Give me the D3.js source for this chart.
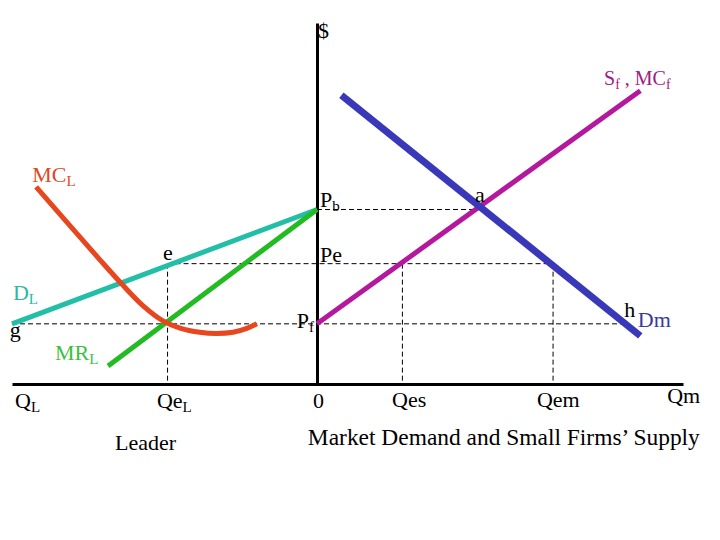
<!DOCTYPE html>
<html>
<head>
<meta charset="utf-8">
<script src="https://cdn.jsdelivr.net/npm/d3@7"></script>
<style>
  body { margin: 0; background: #fff; }
  svg text { font-family: "Liberation Serif", "Times New Roman", serif; }
</style>
</head>
<body>
<div id="chart"></div>
<script>
// Quantity runs left of 0 for the leader, right of 0 for the market
const leaderDemand = [[-10, 2], [0, 5.8]];
const leaderMR = [[-6.85, 0.6], [0, 5.8]];
const leaderMC = [[-9.21, 6.55], [-7.11, 4.12], [-6.36, 3.28], [-5.7, 2.6],
  [-5.05, 2.1], [-4.49, 1.86], [-3.84, 1.72], [-3.3, 1.68], [-2.75, 1.72], [-2.3, 1.85], [-1.97, 2.0]];
const marketDemand = [[0.8, 9.6], [10.6, 1.6]];
const fringeSupply = [[0, 2], [10.6, 9.75]];

// dashed guides
const priceGuides = [
  { y: 5.8, x0: 0, x1: 5.34 },     // Pb to a
  { y: 4, x0: -4.9, x1: 7.74 },    // e to Qem
  { y: 2, x0: -10, x1: 10.1 }      // g to h
];
const qtyGuides = [
  { x: -4.9, y1: 4 },   // QeL
  { x: 2.8, y1: 4 },    // Qes
  { x: 7.74, y1: 4 }    // Qem
];

// annotations: main text, subscript, anchor in chart units
const labels = [
  { t: "$", s: "", x: 0.03, y: 11.5, c: "#000" },
  { t: "MC", s: "L", x: -9.34, y: 6.71, c: "#e0481e" },
  { t: "D", s: "L", x: -9.97, y: 2.79, c: "#2ab8a2" },
  { t: "g", s: "", x: -10.07, y: 1.56, c: "#000" },
  { t: "MR", s: "L", x: -8.59, y: 0.8, c: "#3cbf3c" },
  { t: "e", s: "", x: -5.05, y: 4.12, c: "#000" },
  { t: "P", s: "b", x: 0.1, y: 5.88, c: "#000" },
  { t: "Pe", s: "", x: 0.1, y: 4.06, c: "#000" },
  { t: "P", s: "f", x: -0.66, y: 1.86, c: "#000" },
  { t: "a", s: "", x: 5.18, y: 6.05, c: "#000" },
  { t: "h", s: "", x: 10.07, y: 2.23, c: "#000" },
  { t: "Dm", s: "", x: 10.52, y: 1.89, c: "#3a3a9e" },
  { t: "Q", s: "L", x: -9.9, y: -0.8, c: "#000" },
  { t: "Qe", s: "L", x: -5.25, y: -0.8, c: "#000" },
  { t: "0", s: "", x: -0.13, y: -0.8, c: "#000" },
  { t: "Qes", s: "", x: 2.46, y: -0.76, c: "#000" },
  { t: "Qem", s: "", x: 7.21, y: -0.76, c: "#000" },
  { t: "Qm", s: "", x: 11.48, y: -0.63, c: "#000" },
  { t: "Leader", s: "", x: -6.62, y: -2.19, c: "#000" }
];

const width = 720;
const height = 540;

const x = d3.scaleLinear().domain([-10, 12]).range([12, 683]);
const y = d3.scaleLinear().domain([0, 12]).range([384, 23]);

const svg = d3.select("#chart")
  .append("svg")
  .attr("width", width)
  .attr("height", height);

// guides first so curves sit on top
const guides = svg.append("g")
  .attr("stroke", "#000")
  .attr("stroke-width", 1)
  .attr("stroke-dasharray", "5,3");

guides.selectAll(".hguide")
  .data(priceGuides)
  .enter()
  .append("line")
  .attr("class", "hguide")
  .attr("x1", d => x(d.x0))
  .attr("x2", d => x(d.x1))
  .attr("y1", d => y(d.y))
  .attr("y2", d => y(d.y));

guides.selectAll(".vguide")
  .data(qtyGuides)
  .enter()
  .append("line")
  .attr("class", "vguide")
  .attr("x1", d => x(d.x))
  .attr("x2", d => x(d.x))
  .attr("y1", d => y(d.y1))
  .attr("y2", y(0));

// axes
svg.append("g")
  .attr("transform", "translate(0," + y(0) + ")")
  .call(d3.axisBottom(x).tickValues([]).tickSizeOuter(0))
  .select(".domain")
  .attr("stroke", "#000")
  .attr("stroke-width", 3);

svg.append("g")
  .attr("transform", "translate(" + x(0) + ",0)")
  .call(d3.axisLeft(y).tickValues([]).tickSizeOuter(0))
  .select(".domain")
  .attr("stroke", "#000")
  .attr("stroke-width", 3);

// curves
const line = d3.line().x(d => x(d[0])).y(d => y(d[1]));
const smooth = d3.line().x(d => x(d[0])).y(d => y(d[1])).curve(d3.curveCatmullRom);

const curves = [
  { pts: leaderDemand, color: "#22bfa6", w: 5, gen: line },
  { pts: leaderMR, color: "#22bb22", w: 5, gen: line },
  { pts: leaderMC, color: "#e8461e", w: 5, gen: smooth },
  { pts: fringeSupply, color: "#b4189c", w: 5, gen: line },
  { pts: marketDemand, color: "#3838b8", w: 7, gen: line }
];

svg.selectAll(".curve")
  .data(curves)
  .enter()
  .append("path")
  .attr("class", "curve")
  .attr("d", d => d.gen(d.pts))
  .attr("fill", "none")
  .attr("stroke", d => d.color)
  .attr("stroke-width", d => d.w);

// labels
const lab = svg.selectAll(".lab")
  .data(labels)
  .enter()
  .append("text")
  .attr("class", "lab")
  .attr("x", d => x(d.x))
  .attr("y", d => y(d.y))
  .attr("fill", d => d.c)
  .attr("font-size", 22);

lab.append("tspan").text(d => d.t);
lab.filter(d => d.s)
  .append("tspan")
  .attr("font-size", 15)
  .attr("dy", 4)
  .text(d => d.s);

// supply label with two subscripts
const sLab = svg.append("text")
  .attr("x", x(9.41))
  .attr("y", y(9.94))
  .attr("fill", "#9e2080")
  .attr("font-size", 20);
sLab.append("tspan").text("S");
sLab.append("tspan").attr("font-size", 14).attr("dy", 4).text("f");
sLab.append("tspan").attr("dy", -4).text(" , MC");
sLab.append("tspan").attr("font-size", 14).attr("dy", 4).text("f");

svg.append("text")
  .attr("x", x(-0.3))
  .attr("y", y(-2.03))
  .attr("font-size", 23)
  .attr("textLength", 392)
  .attr("lengthAdjust", "spacingAndGlyphs")
  .text("Market Demand and Small Firms\u2019 Supply");
</script>
</body>
</html>
